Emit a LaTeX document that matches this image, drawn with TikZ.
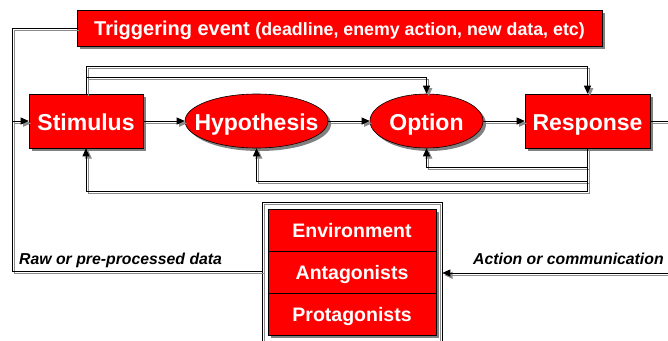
\documentclass[tikz,border=0pt]{standalone}
\usepackage{fontspec}
\setmainfont{Liberation Sans}
\usetikzlibrary{shapes.geometric,shadows,arrows.meta}
\definecolor{boxred}{RGB}{255,0,0}
\definecolor{shgray}{RGB}{128,128,128}
\definecolor{linegray}{RGB}{140,140,140}
\newcommand\myconns{%
  \draw[c,arrowed] (stim.east) -- (hyp.west);
  \draw[c,arrowed] (hyp.east) -- (opt.west);
  \draw[c,arrowed] (opt.east) -- (resp.west);
  \draw[c] (resp.east) -- (resp.east -| xr);
  \draw[c,arrowed] (stim.north) -- (stim.north |- yA) -| (resp.north);
  \draw[c,arrowed] (stim.north |- yB) -| (opt.north);
  \draw[c,arrowed] (resp.south) -- (resp.south |- yE) -| (stim.south);
  \draw[c,arrowed] (resp.south |- yD) -| (hyp.south);
  \draw[c,arrowed] (resp.south |- yC) -| (opt.south);
  \draw[c,arrowed] (trig.west) -| (L) -- (stim.west);
  \draw[c] (envframe.west |- yraw) -| (L);
  \draw[c,arrowed] (xr |- yact) -- (envframe.east |- yact);
}
\begin{document}
\begin{tikzpicture}[x=1pt,y=-1pt,
  shad/.style={drop shadow={shadow xshift=3pt,shadow yshift=-3pt,fill=shgray,opacity=1}},
  redbox/.style={rectangle,fill=boxred,draw=black,line width=0.6pt,inner sep=0pt,shad},
  redell/.style={ellipse,fill=boxred,draw=black,line width=0.6pt,inner sep=0pt,shad},
  big/.style={text=white,font=\fontsize{23}{23}\selectfont\bfseries,text height=18pt,text depth=0pt,inner sep=0pt},
  cell/.style={redbox,minimum width=168pt,minimum height=42pt,text=white,font=\fontsize{19.5}{19.5}\selectfont\bfseries,text height=15pt,text depth=0pt},
  lab/.style={anchor=base west,inner sep=0pt,font=\fontsize{15.8}{15.8}\selectfont\bfseries\itshape},
  arrowed/.style={-{Triangle[length=8pt,width=7pt]}},
]
\useasboundingbox (0,0) rectangle (668,340);
\clip (0,0) rectangle (668,340);

% coordinates for connector levels
\coordinate (yA) at (0,66);
\coordinate (yB) at (0,77);
\coordinate (yC) at (0,167);
\coordinate (yD) at (0,181);
\coordinate (yE) at (0,191);
\coordinate (yraw) at (0,271);
\coordinate (yact) at (0,273);
\coordinate (xr) at (670,0);
\coordinate (L) at (12,121);

% nodes
\node[redbox,minimum width=525pt,minimum height=36pt,text=white,font=\bfseries,text height=15pt,text depth=0pt] (trig) at (339.5,28)
  {\fontsize{20}{20}\selectfont Triggering event \fontsize{17.8}{17.8}\selectfont(deadline, enemy action, new data, etc)};
\node[redbox,minimum width=114pt,minimum height=54pt,big] (stim) at (86,121) {Stimulus};
\node[redell,minimum width=143pt,minimum height=54pt] (hyp) at (256.5,121) {};
\node[big] (hyptxt) at (hyp.center) {Hypothesis};
\node[redell,minimum width=113pt,minimum height=54pt] (opt) at (426.5,121) {};
\node[big] (opttxt) at (opt.center) {Option};
\node[redbox,minimum width=125pt,minimum height=54pt,big] (resp) at (587.5,121) {Response};

\node[draw=black,line width=0.6pt,minimum width=180pt,minimum height=160pt,inner sep=0pt] (envframe) at (352,282) {};
\draw[linegray,line width=0.6pt] ([shift={(2.5,2.5)}]envframe.north west) rectangle ([shift={(-2.5,-2.5)}]envframe.south east);
\node[cell] (env) at (352,230) {Environment};
\node[cell] (ant) at (352,272) {Antagonists};
\node[cell] (prot) at (352,314) {Protagonists};

\node[lab] (rawlab) at (19,264.5) {Raw or pre-processed data};
\node[lab] (actlab) at (473,264.5) {Action or communication};

% connectors: gray shadow copy, then black
\begin{scope}[transform canvas={shift={(2.3pt,-2.3pt)}},c/.style={draw=linegray,line width=0.8pt}]
\myconns
\end{scope}
\begin{scope}[c/.style={draw=black,line width=0.8pt}]
\myconns
\end{scope}
\end{tikzpicture}
\end{document}
